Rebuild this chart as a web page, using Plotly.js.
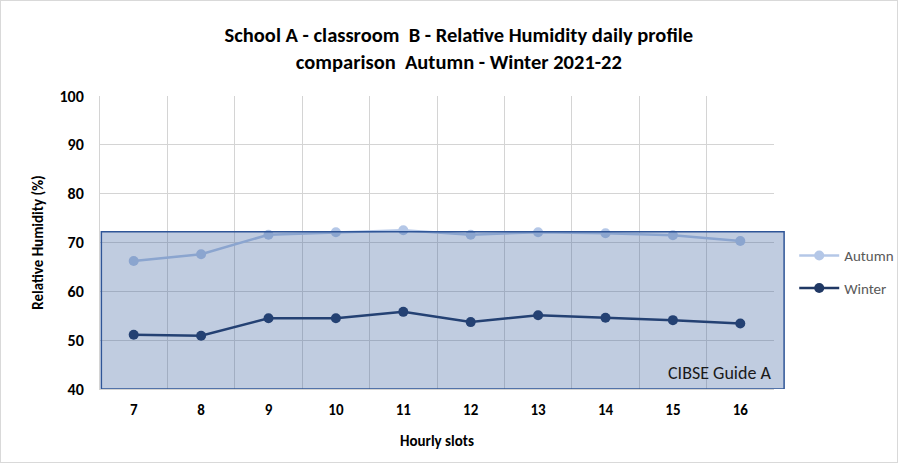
<!DOCTYPE html>
<html>
<head>
<meta charset="utf-8">
<script src="https://cdn.plot.ly/plotly-3.0.1.min.js"></script>
<style>
html,body{margin:0;padding:0;background:#fff;}
#chart{width:898px;height:463px;box-sizing:border-box;border:1px solid #d9d9d9;}
</style>
</head>
<body>
<div id="chart"></div>
<script>
const hours = ['7','8','9','10','11','12','13','14','15','16'];
const autumn = [66.2, 67.6, 71.6, 72.1, 72.5, 71.6, 72.1, 71.9, 71.5, 70.3];
const winter = [51.1, 50.9, 54.5, 54.5, 55.8, 53.7, 55.1, 54.6, 54.1, 53.4];
const bandLow = 40;
const bandHigh = 72.2;
const bandLabel = 'CIBSE Guide A';

const FONT = 'Carlito, Lato, "Liberation Sans", sans-serif';

const traces = [
  {x: hours, y: autumn, name: 'Autumn', legendgroup: 'a', type: 'scatter', mode: 'lines+markers',
   line: {color: '#b4c7e7', width: 2.5}, marker: {color: '#b4c7e7', size: 10}},
  {x: hours, y: winter, name: 'Winter', legendgroup: 'w', type: 'scatter', mode: 'lines+markers',
   line: {color: '#203864', width: 2.5}, marker: {color: '#203864', size: 10}}
];

const layout = {
  width: 896, height: 461,
  margin: {l: 99, r: 123, t: 95, b: 73, autoexpand: false},
  paper_bgcolor: '#fff', plot_bgcolor: '#fff',
  font: {family: FONT, color: '#000', size: 14},
  title: {text: '<b>School A - classroom  B - Relative Humidity daily profile<br>comparison  Autumn - Winter 2021-22</b>',
          x: 0.511, xanchor: 'center', y: 0.91, yanchor: 'top', font: {size: 20.5, family: FONT}},
  xaxis: {type: 'category', range: [-0.5, hours.length - 0.5], tickson: 'boundaries', showgrid: true, gridcolor: '#d4d4d4', gridwidth: 1,
          ticks: '', showline: true, linecolor: '#d4d4d4', automargin: false,
          tickfont: {size: 15, family: FONT}, tickprefix: '<b>', ticksuffix: '</b>', ticklabelstandoff: 7,
          title: {text: '<b>Hourly slots</b>', font: {size: 15, family: FONT}, standoff: 17}},
  yaxis: {range: [40, 100], dtick: 10, showgrid: true, gridcolor: '#d4d4d4', gridwidth: 1,
          ticks: '', showline: true, linecolor: '#d4d4d4', zeroline: false, automargin: false,
          tickfont: {size: 16, family: FONT}, ticklabelstandoff: 12,
          tickprefix: '<b>', ticksuffix: '</b>',
          title: {text: '<b>Relative Humidity (%)</b>', font: {size: 15, family: FONT}, standoff: 12}},
  showlegend: true,
  legend: {x: 1.03, xanchor: 'left', y: 0.4, yanchor: 'middle', font: {size: 15, color: '#595959', family: FONT},
           tracegroupgap: 10, itemwidth: 40},
  shapes: [{type: 'rect', xref: 'paper', yref: 'y', x0: 0.002, x1: 1.015, y0: bandLow, y1: bandHigh,
            fillcolor: 'rgba(47,85,151,0.30)', line: {color: '#2f5597', width: 1.5}, layer: 'above'}],
  annotations: [{text: bandLabel, xref: 'paper', yref: 'y', x: 0.998, y: bandLow + 0.6,
                 xanchor: 'right', yanchor: 'bottom', showarrow: false,
                 font: {size: 18, color: '#1a1a1a', family: FONT}}]
};

Plotly.newPlot('chart', traces, layout, {displayModeBar: false, staticPlot: true});
</script>
</body>
</html>
